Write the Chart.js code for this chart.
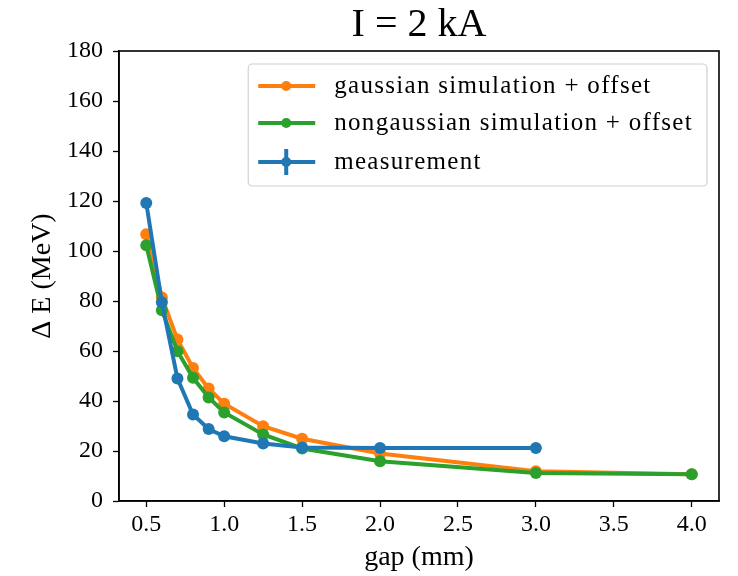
<!DOCTYPE html>
<html>
<head>
<meta charset="utf-8">
<script src="https://cdn.jsdelivr.net/npm/chart.js@4"></script>
<style>
  html, body { margin: 0; padding: 0; background: #fff; }
</style>
</head>
<body>
<canvas id="gap-chart" width="738" height="576"></canvas>
<script>
'use strict'

// gap values (mm)
const simGaps = [0.5, 0.6, 0.7, 0.8, 0.9, 1.0, 1.25, 1.5, 2.0, 3.0, 4.0];
const measGaps = [0.5, 0.6, 0.7, 0.8, 0.9, 1.0, 1.25, 1.5, 2.0, 3.0];

// energy spread Delta E (MeV)
const gaussianSim = [106.7, 81.4, 64.6, 53.2, 45.0, 38.9, 29.9, 24.9, 19.0, 11.9, 10.7];
const nongaussianSim = [102.3, 76.3, 59.9, 49.3, 41.4, 35.4, 26.6, 21.0, 15.9, 11.2, 10.7];
const measurement = [119.2, 79.5, 49.0, 34.6, 28.8, 25.9, 23.0, 21.4, 21.2, 21.2];

const xTicks = [0.5, 1.0, 1.5, 2.0, 2.5, 3.0, 3.5, 4.0];
const yTicks = [0, 20, 40, 60, 80, 100, 120, 140, 160, 180];

const serif = '"Liberation Serif", "DejaVu Serif", serif';

const toPoints = (xs, ys) => xs.map((x, i) => ({ x: x, y: ys[i] }));

// white background
const whiteBg = {
    id: 'whiteBg',
    beforeDraw(chart) {
        const c = chart.ctx;
        c.save();
        c.fillStyle = '#fff';
        c.fillRect(0, 0, chart.width, chart.height);
        c.restore();
    }
};

// top and right spines
const frame = {
    id: 'frame',
    afterDatasetsDraw(chart) {
        const a = chart.chartArea;
        const c = chart.ctx;
        c.save();
        c.strokeStyle = '#000';
        c.lineWidth = 1.6;
        c.strokeRect(a.left, a.top, a.right - a.left, a.bottom - a.top);
        c.restore();
    }
};

// matplotlib style legend box
const mplLegend = {
    id: 'mplLegend',
    afterDraw(chart) {
        const c = chart.ctx;
        const a = chart.chartArea;
        const items = [2, 1, 0].map(i => chart.data.datasets.find(d => d.legendIndex === i));
        c.save();
        c.font = '25px ' + serif;
        c.letterSpacing = '1.3px';
        let maxW = 0;
        items.forEach(d => { maxW = Math.max(maxW, c.measureText(d.label).width); });
        const boxW = 86 + maxW + 14;
        const boxH = 122;
        const bx = a.right - 12 - boxW;
        const by = a.top + 13;
        c.fillStyle = 'rgba(255,255,255,0.85)';
        c.strokeStyle = '#d0d0d0';
        c.lineWidth = 1.2;
        c.beginPath();
        c.roundRect(bx, by, boxW, boxH, 4);
        c.fill();
        c.stroke();
        const rows = [22, 59, 98];
        items.forEach((d, k) => {
            const y = by + rows[k];
            c.strokeStyle = d.borderColor;
            c.lineWidth = 4;
            c.beginPath();
            c.moveTo(bx + 10, y);
            c.lineTo(bx + 67, y);
            c.stroke();
            if (d.legendIndex === 0) {
                c.beginPath();
                c.moveTo(bx + 38, y - 13);
                c.lineTo(bx + 38, y + 13);
                c.stroke();
            }
            c.fillStyle = d.borderColor;
            c.beginPath();
            c.arc(bx + 38, y, 5, 0, Math.PI * 2);
            c.fill();
            c.fillStyle = '#000';
            c.textBaseline = 'middle';
            c.fillText(d.label, bx + 86, y);
        });
        c.restore();
    }
};

const ctx = document.getElementById('gap-chart').getContext('2d');
const gapChart = new Chart(ctx, {
    type: 'line',
    data: {
        datasets: [
            {
                label: 'measurement',
                legendIndex: 0,
                data: toPoints(measGaps, measurement),
                borderColor: '#1f77b4',
                backgroundColor: '#1f77b4',
                borderWidth: 4,
                pointRadius: 6,
                pointBorderWidth: 0,
                order: 1
            },
            {
                label: 'nongaussian simulation + offset',
                legendIndex: 1,
                data: toPoints(simGaps, nongaussianSim),
                borderColor: '#2ca02c',
                backgroundColor: '#2ca02c',
                borderWidth: 4,
                pointRadius: 6,
                pointBorderWidth: 0,
                order: 2
            },
            {
                label: 'gaussian simulation + offset',
                legendIndex: 2,
                data: toPoints(simGaps, gaussianSim),
                borderColor: '#ff7f0e',
                backgroundColor: '#ff7f0e',
                borderWidth: 4,
                pointRadius: 6,
                pointBorderWidth: 0,
                order: 3
            }
        ]
    },
    options: {
        responsive: false,
        animation: false,
        layout: {
            padding: { top: 0, right: 19, bottom: 0, left: 0 }
        },
        plugins: {
            legend: { display: false },
            tooltip: { enabled: false },
            title: {
                display: true,
                text: 'I = 2 kA',
                fullSize: false,
                color: '#000',
                font: { family: serif, size: 40, weight: 'normal', lineHeight: 1.0 },
                padding: { top: 5, bottom: 6 }
            }
        },
        scales: {
            x: {
                type: 'linear',
                min: 0.325,
                max: 4.175,
                afterBuildTicks: s => { s.ticks = xTicks.map(v => ({ value: v })); },
                afterFit: s => { s.height = 75; },
                ticks: {
                    color: '#000',
                    font: { family: serif, size: 24 },
                    padding: 3,
                    maxRotation: 0,
                    callback: v => v.toFixed(1)
                },
                grid: {
                    drawOnChartArea: false,
                    drawTicks: true,
                    tickLength: 6,
                    tickWidth: 1.3,
                    color: '#000'
                },
                border: { display: true, color: '#000', width: 1.6 },
                title: {
                    display: true,
                    text: 'gap (mm)',
                    color: '#000',
                    font: { family: serif, size: 28 },
                    padding: { top: 0, bottom: 2 }
                }
            },
            y: {
                type: 'linear',
                min: 0,
                max: 180,
                afterBuildTicks: s => { s.ticks = yTicks.map(v => ({ value: v })); },
                afterFit: s => { s.width = 119; },
                ticks: {
                    color: '#000',
                    font: { family: serif, size: 24 },
                    padding: 10
                },
                grid: {
                    drawOnChartArea: false,
                    drawTicks: true,
                    tickLength: 6,
                    tickWidth: 1.3,
                    color: '#000'
                },
                border: { display: true, color: '#000', width: 1.6 },
                title: {
                    display: true,
                    text: 'Δ E (MeV)',
                    color: '#000',
                    font: { family: serif, size: 28 },
                    padding: { top: 26, bottom: 0 }
                }
            }
        }
    },
    plugins: [whiteBg, frame, mplLegend]
});
</script>
</body>
</html>
